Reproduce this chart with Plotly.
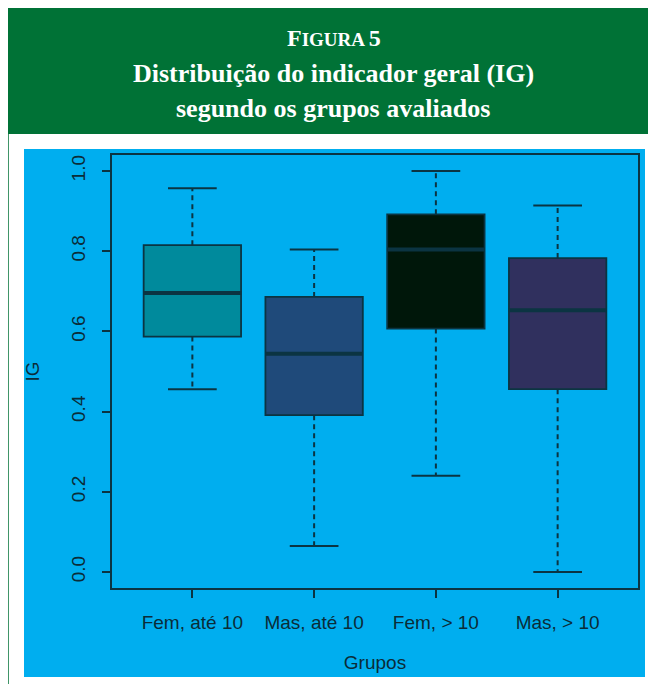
import plotly.graph_objects as go

# ---- data ----
groups = ["Fem, até 10", "Mas, até 10", "Fem, > 10", "Mas, > 10"]
lower_whisker = [0.456, 0.065, 0.240, 0.000]
q1_values = [0.587, 0.391, 0.607, 0.456]
median_values = [0.696, 0.544, 0.804, 0.653]
q3_values = [0.815, 0.686, 0.892, 0.783]
upper_whisker = [0.957, 0.804, 1.000, 0.914]
y_ticks = [0.0, 0.2, 0.4, 0.6, 0.8, 1.0]

fill_colors = ["#008A9C", "#1F4A7A", "#00170A", "#30305E"]
LINE = "#0B3442"
TEXT = "#0B2C38"
BLUE = "#00AEEF"
GREEN = "#007236"

positions = list(range(1, len(groups) + 1))
BOX_W = 0.8
CAP_W = 0.4

fig = go.Figure()

# dashed whiskers
wx, wy = [], []
for p, lo, a, b, hi in zip(positions, lower_whisker, q1_values, q3_values, upper_whisker):
    wx += [p, p, None, p, p, None]
    wy += [b, hi, None, a, lo, None]
fig.add_trace(go.Scatter(x=wx, y=wy, mode="lines", hoverinfo="skip", showlegend=False,
                         line=dict(color=LINE, width=2, dash="5px,4px")))
# caps
cx, cy = [], []
for p, lo, hi in zip(positions, lower_whisker, upper_whisker):
    cx += [p - CAP_W / 2, p + CAP_W / 2, None, p - CAP_W / 2, p + CAP_W / 2, None]
    cy += [hi, hi, None, lo, lo, None]
fig.add_trace(go.Scatter(x=cx, y=cy, mode="lines", hoverinfo="skip", showlegend=False,
                         line=dict(color=LINE, width=2)))

# boxes
for p, g, a, m, b, c in zip(positions, groups, q1_values, median_values, q3_values, fill_colors):
    fig.add_trace(go.Box(x=[p], q1=[a], median=[m], q3=[b], lowerfence=[a], upperfence=[b],
                         width=BOX_W, fillcolor=c, line=dict(color=LINE, width=1.8),
                         boxpoints=False, whiskerwidth=0, name=g, showlegend=False))

# thick medians
mx, my = [], []
for p, m in zip(positions, median_values):
    mx += [p - BOX_W / 2, p + BOX_W / 2, None]
    my += [m, m, None]
fig.add_trace(go.Scatter(x=mx, y=my, mode="lines", hoverinfo="skip", showlegend=False,
                         line=dict(color=LINE, width=4)))

# ---- layout ----
OFF = 8  # page offset of the figure inside the browser window
W, H = 656 - OFF, 684 - OFF
L, T = 112 - OFF, 155 - OFF
R = W - (638 - OFF)
B = H - (588 - OFF)
pw, ph = W - L - R, H - T - B

def px(x):
    return (x - OFF - L) / pw

def py(y):
    return (H - B - (y - OFF)) / ph

shapes = [
    dict(type="rect", xref="paper", yref="paper", x0=px(24), x1=px(645), y0=py(677), y1=py(149),
         fillcolor=BLUE, line=dict(width=0), layer="below"),
    dict(type="rect", xref="paper", yref="paper", x0=px(7), x1=px(660), y0=py(134), y1=py(7),
         fillcolor=GREEN, line=dict(width=0), layer="below"),
    dict(type="line", xref="paper", yref="paper", x0=px(8), x1=px(8), y0=py(690), y1=py(134),
         line=dict(color=GREEN, width=1.5), layer="below"),
]

serif = "Liberation Serif"
annotations = [
    dict(text="<b><span style='font-size:24px'>F</span>IGURA <span style='font-size:24px'>5</span></b>",
         xref="paper", yref="paper", x=px(334), y=py(38), showarrow=False,
         font=dict(family=serif, size=19, color="white"), xanchor="center", yanchor="middle"),
    dict(text="<b>Distribuição do indicador geral (IG)</b>",
         xref="paper", yref="paper", x=px(333), y=py(73), showarrow=False,
         font=dict(family=serif, size=26, color="white"), xanchor="center", yanchor="middle"),
    dict(text="<b>segundo os grupos avaliados</b>",
         xref="paper", yref="paper", x=px(333), y=py(108), showarrow=False,
         font=dict(family=serif, size=26, color="white"), xanchor="center", yanchor="middle"),
]

fig.update_layout(
    width=W, height=H,
    margin=dict(l=L, r=R, t=T, b=B, autoexpand=False),
    paper_bgcolor="white",
    plot_bgcolor="rgba(0,0,0,0)",
    boxmode="overlay",
    showlegend=False,
    shapes=shapes,
    annotations=annotations,
    font=dict(family="Liberation Sans", size=19, color=TEXT),
)
fig.update_xaxes(
    range=[0.34, len(groups) + 0.66], tickmode="array", tickvals=positions, ticktext=groups,
    ticks="outside", ticklen=8, tickwidth=2, tickcolor=LINE, ticklabelstandoff=8,
    showline=True, linecolor=LINE, linewidth=2, mirror=True, showgrid=False, zeroline=False,
    tickfont=dict(size=19, color=TEXT),
    title=dict(text="Grupos", font=dict(size=19, color=TEXT), standoff=24),
)
fig.update_yaxes(
    range=[-0.04, 1.04], tickmode="array", tickvals=y_ticks,
    ticktext=[f"{v:.1f}" for v in y_ticks], tickangle=-90,
    ticks="outside", ticklen=8, tickwidth=2, tickcolor=LINE, ticklabelstandoff=9,
    showline=True, linecolor=LINE, linewidth=2, mirror=True, showgrid=False, zeroline=False,
    tickfont=dict(size=19, color=TEXT),
    title=dict(text="IG", font=dict(size=19, color=TEXT), standoff=24),
)

fig.write_html("out.html")
